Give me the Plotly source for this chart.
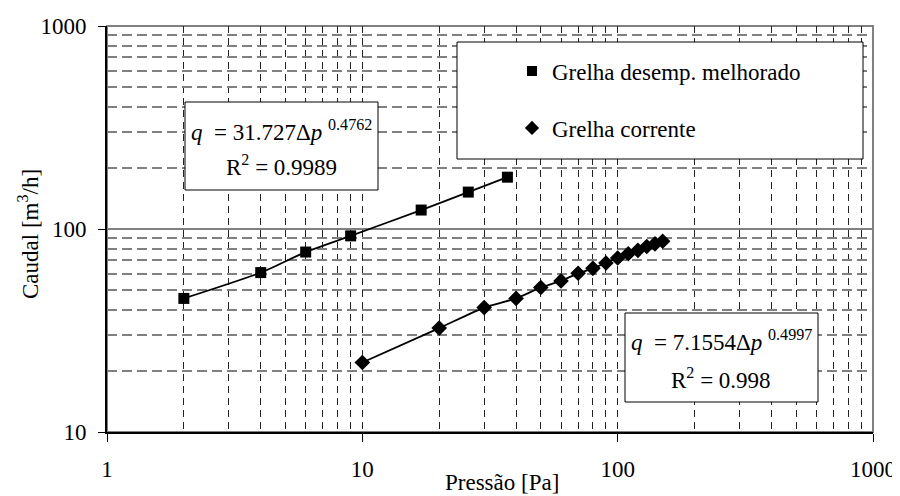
import plotly.graph_objects as go

# Grelha desempenho melhorado (squares)
p_melhorado = [2, 4, 6, 9, 17, 26, 37]
q_melhorado = [45.5, 61, 77, 92.5, 124, 152, 180]

# Grelha corrente (diamonds)
p_corrente = [10, 20, 30, 40, 50, 60, 70, 80, 90, 100, 110, 120, 130, 140, 150]
q_corrente = [22, 32.5, 41, 45.5, 51.5, 55.5, 60.5, 64, 68, 72, 75.5, 78.5, 82, 84.5, 87]

eq_melhorado = ["<i>q</i>  = 31.727Δ<i>p</i> <sup>0.4762</sup>", "R<sup>2</sup> = 0.9989"]
eq_corrente = ["<i>q</i>  = 7.1554Δ<i>p</i> <sup>0.4997</sup>", "R<sup>2</sup> = 0.998"]

FONT = "Liberation Serif"
FS = 23

# the page body adds an 8px offset, so the figure is 8px smaller and margins shifted
# plot area on screen: x 107..873, y 26..432
def px(x):
    return (x - 107) / 766

def py(y):
    return (432 - y) / 406

fig = go.Figure()

# data curves (smoothed like the original spreadsheet chart)
fig.add_trace(go.Scatter(x=p_melhorado, y=q_melhorado, mode='lines+markers',
                         line=dict(color='black', width=1.8, shape='spline', smoothing=0.6),
                         marker=dict(symbol='square', size=11, color='black'),
                         showlegend=False))
fig.add_trace(go.Scatter(x=p_corrente, y=q_corrente, mode='lines+markers',
                         line=dict(color='black', width=1.8, shape='spline', smoothing=0.6),
                         marker=dict(symbol='diamond', size=12, color='black'),
                         showlegend=False))

# legend entries (marker only)
fig.add_trace(go.Scatter(x=[None], y=[None], mode='markers', name='Grelha desemp. melhorado',
                         marker=dict(symbol='square', size=10, color='black'), legend='legend'))
fig.add_trace(go.Scatter(x=[None], y=[None], mode='markers', name='Grelha corrente',
                         marker=dict(symbol='diamond', size=11, color='black'), legend='legend2'))

legend_style = dict(bgcolor='rgba(0,0,0,0)', borderwidth=0, xanchor='left', yanchor='middle',
                    font=dict(family=FONT, size=FS, color='black'), itemclick=False)

annotations = []
for lines, cx, ys in [(eq_melhorado, 281, (131, 165)), (eq_corrente, 721, (340, 378))]:
    for txt, yy in zip(lines, ys):
        annotations.append(dict(text=txt, xref='paper', yref='paper', x=px(cx), y=py(yy),
                                showarrow=False, xanchor='center', yanchor='middle',
                                font=dict(family=FONT, size=FS)))
annotations.append(dict(text='Pressão [Pa]', xref='paper', yref='paper', x=px(502), y=py(482),
                        showarrow=False, xanchor='center', yanchor='middle',
                        font=dict(family=FONT, size=FS)))
annotations.append(dict(text='Caudal [m<sup>3</sup>/h]', xref='paper', yref='paper', x=px(28),
                        y=py(234), textangle=-90, showarrow=False, xanchor='center',
                        yanchor='middle', font=dict(family=FONT, size=FS)))

fig.update_layout(
    width=892, height=488,
    margin=dict(l=99, r=27, t=18, b=64),
    paper_bgcolor='white', plot_bgcolor='white',
    font=dict(family=FONT, size=FS, color='black'),
    legend=dict(x=px(512), y=py(71), **legend_style),
    legend2=dict(x=px(512), y=py(128), **legend_style),
    xaxis=dict(type='log', range=[0, 3], dtick=1, automargin=False,
               showline=True, linecolor='black', linewidth=2,
               ticks='outside', ticklen=8, tickcolor='black', ticklabelstandoff=7,
               showgrid=True, gridcolor='#222', gridwidth=1, griddash='7px,5px',
               minor=dict(dtick='D1', showgrid=True, gridcolor='#222', gridwidth=1,
                          griddash='7px,5px', ticks=''),
               zeroline=False),
    yaxis=dict(type='log', range=[1, 3], dtick=1, automargin=False,
               showline=True, linecolor='black', linewidth=2,
               ticks='outside', ticklen=7, tickcolor='black', ticklabelstandoff=7,
               showgrid=True, gridcolor='#808080', gridwidth=1.5,
               minor=dict(dtick='D1', showgrid=True, gridcolor='#808080', gridwidth=1.5,
                          griddash='10px,5px', ticks=''),
               zeroline=False),
    shapes=[
        # plot frame (top/right)
        dict(type='rect', xref='paper', yref='paper', x0=0, x1=1, y0=0, y1=1,
             line=dict(color='#808080', width=2), layer='below'),
        # legend box
        dict(type='rect', xref='paper', yref='paper', x0=px(457), x1=px(863), y0=py(159), y1=py(42),
             line=dict(color='black', width=1), fillcolor='white', layer='above'),
        # equation boxes
        dict(type='rect', xref='paper', yref='paper', x0=px(185), x1=px(378), y0=py(190), y1=py(102),
             line=dict(color='black', width=1), fillcolor='white', layer='above'),
        dict(type='rect', xref='paper', yref='paper', x0=px(625), x1=px(818), y0=py(402), y1=py(313),
             line=dict(color='black', width=1), fillcolor='white', layer='above'),
    ],
    annotations=annotations,
)

fig.write_html("out.html")
